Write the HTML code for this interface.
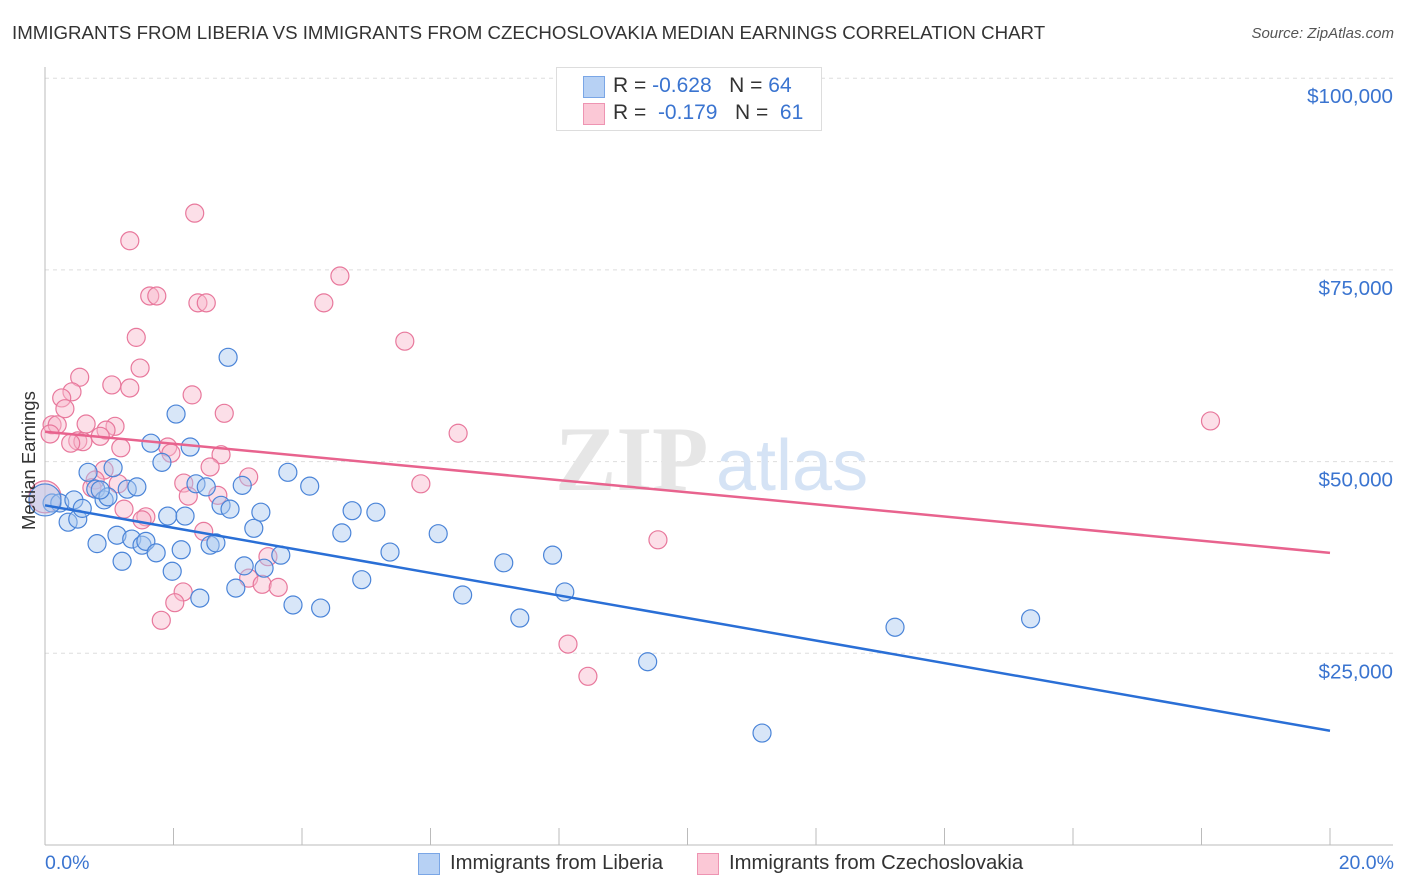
<!DOCTYPE html>
<html><head><meta charset="utf-8"><style>
body{margin:0;background:#fff;font-family:"Liberation Sans",sans-serif;}
#wrap{position:relative;width:1406px;height:892px;overflow:hidden;}
.t{position:absolute;white-space:nowrap;}
</style></head><body>
<div id="wrap">
<div class="t" style="left:12px;top:22px;font-size:18.7px;color:#333;">IMMIGRANTS FROM LIBERIA VS IMMIGRANTS FROM CZECHOSLOVAKIA MEDIAN EARNINGS CORRELATION CHART</div>
<div class="t" style="right:12px;top:25px;font-size:15px;color:#555;font-style:italic;">Source: ZipAtlas.com</div>
<svg id="svg" width="1406" height="892" style="position:absolute;left:0;top:0"></svg>
</div>
<script>
const xTicks=[0,2,4,6,8,10,12,14,16,18,20];
const yTicks=[25000,50000,75000,100000];
const yTickLabels=["$25,000","$50,000","$75,000","$100,000"];
const liberiaX=[0.11,0.23,0.36,0.45,0.51,0.58,0.67,0.79,0.81,0.92,0.98,1.06,1.12,1.20,1.28,1.35,1.43,1.51,1.57,1.65,1.73,1.82,1.91,1.98,2.04,2.12,2.18,2.26,2.35,2.41,2.51,2.57,2.66,2.74,2.85,2.88,2.97,3.07,3.10,3.25,3.36,3.41,3.67,3.78,3.86,4.12,4.29,4.62,4.78,4.93,5.15,5.37,6.12,6.50,7.14,7.39,7.90,8.09,9.38,11.16,13.23,15.34,0.0,0.86];
const liberiaY=[44.6,44.6,42.1,45.0,42.5,43.9,48.6,46.4,39.3,45.0,45.4,49.2,40.4,37.0,46.4,39.9,46.7,39.1,39.6,52.4,38.1,49.9,42.9,35.7,56.2,38.5,42.9,51.9,47.1,32.2,46.7,39.1,39.4,44.3,63.6,43.8,33.5,46.9,36.4,41.3,43.4,36.1,37.8,48.6,31.3,46.8,30.9,40.7,43.6,34.6,43.4,38.2,40.6,32.6,36.8,29.6,37.8,33.0,23.9,14.6,28.4,29.5,45.0,46.3];
const czX=[2.33,1.32,4.59,1.63,1.74,2.38,2.51,4.34,1.42,5.60,1.48,0.54,1.04,1.32,0.42,2.29,0.26,0.31,2.79,0.64,1.09,0.11,0.19,0.95,0.86,6.43,18.14,0.08,0.51,0.59,0.40,1.18,1.91,1.96,2.74,2.57,0.92,3.17,0.78,1.14,2.16,5.85,2.69,2.23,0.73,1.23,1.57,1.51,2.47,9.54,3.47,3.17,3.38,3.63,2.15,2.02,1.81,8.14,8.45,0.0];
const czY=[82.4,78.8,74.2,71.6,71.6,70.7,70.7,70.7,66.2,65.7,62.2,61.0,60.0,59.6,59.1,58.7,58.3,56.9,56.3,54.9,54.6,54.8,54.8,54.1,53.3,53.7,55.3,53.6,52.7,52.6,52.4,51.8,51.9,51.1,50.9,49.3,48.9,48.0,47.6,47.1,47.2,47.1,45.6,45.5,46.6,43.8,42.8,42.4,40.9,39.8,37.6,34.8,34.0,33.6,33.0,31.6,29.3,26.2,22.0,45.4];
const liberiaTrend=[44.3,14.9];
const czTrend=[53.9,38.1];

const svg=document.getElementById('svg');
const NS='http://www.w3.org/2000/svg';
const X0=45,X1=1330,Y0=845,YPX=191.7/25000;
function sx(v){return X0+(X1-X0)*v/20;}
function sy(v){return Y0-v*YPX;}
function mk(tag,attrs,parent){const e=document.createElementNS(NS,tag);for(const k in attrs)e.setAttribute(k,attrs[k]);(parent||svg).appendChild(e);return e;}

yTicks.forEach((v,i)=>{
 const g=mk('line',{x1:X0,x2:1393,y1:sy(v),y2:sy(v),stroke:'#ddd','stroke-dasharray':'4,4'});
 
 
 const t=mk('text',{x:1393,y:sy(v)+25,'text-anchor':'end','font-size':20.6,fill:'#3a74d0','font-family':'Liberation Sans, sans-serif'});
 t.textContent=yTickLabels[i];
 
 
});
const ax=mk('line',{x1:X0,x2:X0,y1:67,y2:Y0,stroke:'#bbb'});


const bx=mk('line',{x1:X0,x2:1393,y1:Y0,y2:Y0,stroke:'#bbb'});


xTicks.forEach(v=>{
 const l=mk('line',{x1:sx(v),x2:sx(v),y1:828,y2:Y0,stroke:'#bbb'});
 
 
});
const wm=mk('text',{x:555,y:490,'font-size':92,fill:'#e6e6e6','font-family':'Liberation Serif, serif','font-weight':'bold'});
wm.textContent='ZIP';


const wm2=mk('text',{x:716,y:490,'font-size':72,fill:'#d5e3f5','font-family':'Liberation Sans, sans-serif'});
wm2.textContent='atlas';



function dots(xs,ys,fill,stroke,name){
 xs.forEach((x,i)=>{
  const r=(x===0)?16:9;
  const c=mk('circle',{cx:sx(x),cy:sy(ys[i]*1000),r:r,fill:fill,stroke:stroke,'stroke-width':1.2,'fill-opacity':0.45});
  
  
 });
}
dots(czX,czY,'#f9b8cb','#e8789c','czechoslovakia-point');
dots(liberiaX,liberiaY,'#a9c8f0','#4a84d8','liberia-point');
const l1=mk('line',{x1:sx(0),y1:sy(czTrend[0]*1000),x2:sx(20),y2:sy(czTrend[1]*1000),stroke:'#e8638e','stroke-width':2.5});


const l2=mk('line',{x1:sx(0),y1:sy(liberiaTrend[0]*1000),x2:sx(20),y2:sy(liberiaTrend[1]*1000),stroke:'#2a6fd6','stroke-width':2.5});


</script>
<div class="t" style="left:18px;top:530px;transform:rotate(-90deg);transform-origin:0 0;font-size:18.5px;color:#333;">Median Earnings</div>
<div class="t" style="left:45px;top:852px;font-size:19.5px;color:#3a74d0;">0.0%</div>
<div class="t" style="right:12px;top:852px;font-size:19.5px;color:#3a74d0;">20.0%</div>
<div style="position:absolute;left:556px;top:67px;width:264px;height:62px;border:1px solid #ddd;background:#fff;font-size:21px;">
 <div style="position:absolute;left:26px;top:8px;width:20px;height:20px;background:#b7d1f4;border:1px solid #7aa6e6;"></div>
 <div class="t" style="left:56px;top:6px;color:#333;">R = <span style="color:#3a74d0">-0.628</span>&nbsp;&nbsp;&nbsp;N = <span style="color:#3a74d0">64</span></div>
 <div style="position:absolute;left:26px;top:35px;width:20px;height:20px;background:#fbc8d6;border:1px solid #ee94b2;"></div>
 <div class="t" style="left:56px;top:33px;color:#333;">R = &nbsp;<span style="color:#3a74d0">-0.179</span>&nbsp;&nbsp;&nbsp;N = &nbsp;<span style="color:#3a74d0">61</span></div>
</div>
<div style="position:absolute;left:418px;top:853px;width:20px;height:20px;background:#b7d1f4;border:1px solid #7aa6e6;"></div>
<div class="t" style="left:450px;top:852px;font-size:20.3px;color:#333;">Immigrants from Liberia</div>
<div style="position:absolute;left:697px;top:853px;width:20px;height:20px;background:#fbc8d6;border:1px solid #ee94b2;"></div>
<div class="t" style="left:729px;top:852px;font-size:20.3px;color:#333;">Immigrants from Czechoslovakia</div>
</body></html>
